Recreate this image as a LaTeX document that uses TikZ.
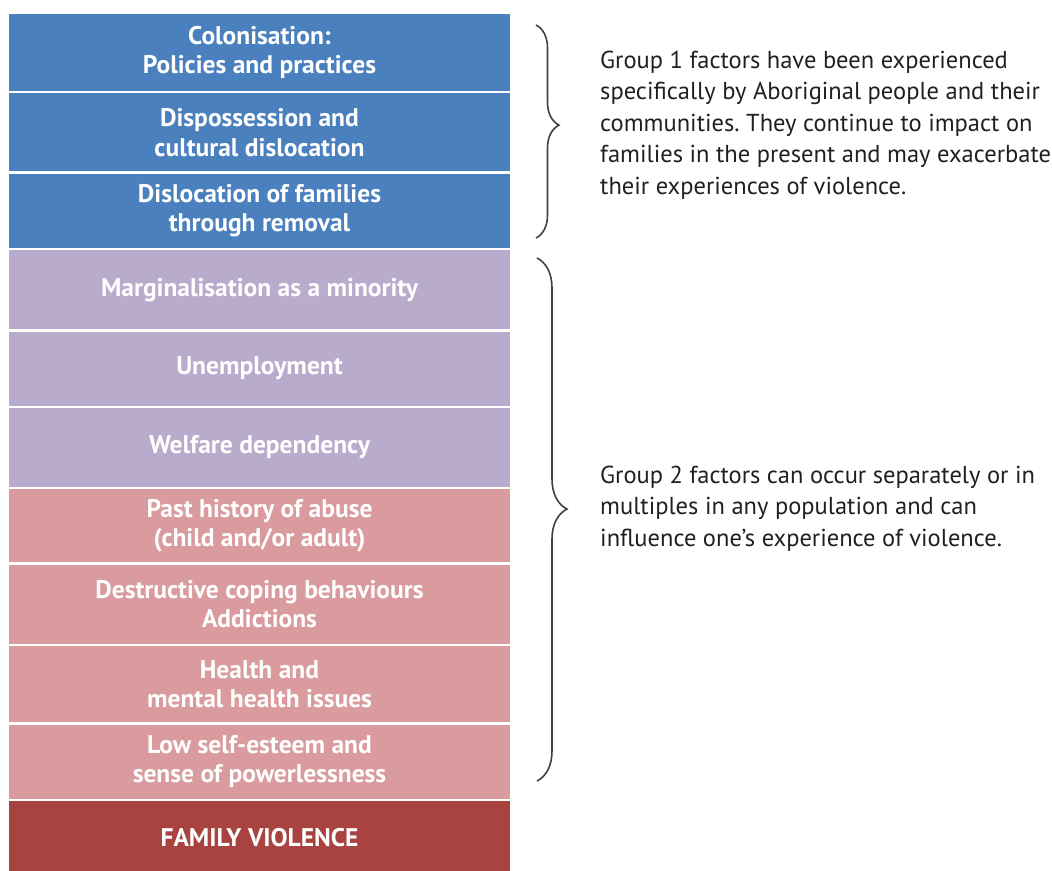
\documentclass[tikz,border=0pt]{standalone}
\usepackage{fontspec}
\setmainfont{PT Sans}
\usetikzlibrary{positioning, decorations.pathreplacing}

\definecolor{histblue}{RGB}{74,128,189}
\definecolor{socpurple}{RGB}{185,171,204}
\definecolor{perspink}{RGB}{217,155,157}
\definecolor{fvred}{RGB}{168,67,64}
\definecolor{notegray}{RGB}{35,31,32}

\tikzset{
    factor/.style={rectangle, minimum width=501pt, inner sep=0pt, text=white,
        align=center, font=\bfseries\fontsize{25.5}{29.5}\selectfont},
    groupone/.style={factor, fill=histblue},
    grouptwo/.style={factor, fill=socpurple},
    groupthree/.style={factor, fill=perspink},
    outcome/.style={factor, fill=fvred},
    note/.style={anchor=west, align=left, inner sep=0pt, text=notegray,
        font=\frenchspacing\fontsize{24.5}{31.5}\selectfont},
    curly/.style={decorate, decoration={brace, amplitude=#1}, draw=black!75,
        line width=1.6pt},
}

\begin{document}
\begin{tikzpicture}[x=1pt, y=-1pt]
        \useasboundingbox (0, 0) rectangle (1052, 870);

        % group 1: colonial history
        \node[groupone, minimum height=77pt] (colon) at (259.5, 52.5) {Colonisation:\\Policies and practices};
        \node[groupone, minimum height=78pt, below=2pt of colon] (dispos) {Dispossession and\\cultural dislocation};
        \node[groupone, minimum height=74pt, below=2pt of dispos] (removal) {Dislocation of families\\through removal};

        % group 2: social conditions
        \node[grouptwo, minimum height=79pt, below=2pt of removal] (margin) {Marginalisation as a minority};
        \node[grouptwo, minimum height=74pt, below=2pt of margin] (unemp) {Unemployment};
        \node[grouptwo, minimum height=79pt, below=2pt of unemp] (welfare) {Welfare dependency};

        % group 2: personal factors
        \node[groupthree, minimum height=73pt, below=2pt of welfare] (abuse) {Past history of abuse\\(child and/or adult)};
        \node[groupthree, minimum height=79pt, below=2pt of abuse] (coping) {Destructive coping behaviours\\Addictions};
        \node[groupthree, minimum height=76pt, below=2pt of coping] (health) {Health and\\mental health issues};
        \node[groupthree, minimum height=74pt, below=2pt of health] (esteem) {Low self-esteem and\\sense of powerlessness};

        \node[outcome, minimum height=73pt, below=2pt of esteem] (fv) {FAMILY VIOLENCE};

        %%%

        \coordinate (b1top) at (536, 25);
        \coordinate (b1bot) at (536, 238);
        \coordinate (b2top) at (537, 258);
        \coordinate (b2bot) at (537, 781);

        \draw[curly=23pt, decoration={aspect=0.47}] (b1top) -- (b1bot);
        \draw[curly=30pt, decoration={aspect=0.48}] (b2top) -- (b2bot);

        \node[note] (note1) at (600, 125) {Group 1 factors have been experienced\\specifically by Aboriginal people and their\\communities. They continue to impact on\\families in the present and may exacerbate\\their experiences of violence.};
        \node[note] (note2) at (600, 508.5) {Group 2 factors can occur separately or in\\multiples in any population and can\\influence one’s experience of violence.};
    \end{tikzpicture}
\end{document}
